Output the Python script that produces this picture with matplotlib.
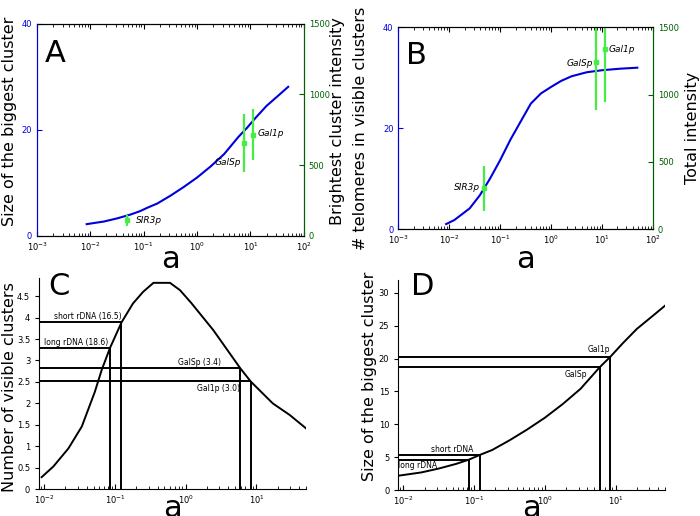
import numpy as np
import matplotlib.pyplot as plt
from matplotlib.ticker import FormatStrFormatter

# size of the biggest cluster vs a (panels A and D)
a_size = [0.0085, 0.018, 0.032, 0.056, 0.085, 0.12, 0.18, 0.32, 0.56, 1.0,
          1.8, 3.2, 6.0, 8.5, 12.6, 20, 32, 51]
size_biggest = [2.2, 2.7, 3.3, 4.0, 4.65, 5.35, 6.1, 7.6, 9.2, 11.0,
                13.1, 15.4, 18.7, 20.3, 22.3, 24.5, 26.3, 28.1]

# telomeres in visible clusters (panel B)
a_telo = [0.0087, 0.0126, 0.0251, 0.0398, 0.063, 0.1, 0.158, 0.251, 0.40,
          0.63, 1.0, 1.58, 2.51, 5.0, 10, 22.4, 49]
telomeres = [1.0, 1.8, 4.1, 6.7, 10.0, 13.7, 17.7, 21.3, 24.9,
             26.9, 28.2, 29.4, 30.3, 31.1, 31.5, 31.8, 32.0]

# number of visible clusters (panel C)
a_clusters = [0.0092, 0.0135, 0.022, 0.034, 0.052, 0.065, 0.085, 0.124, 0.18,
              0.25, 0.35, 0.60, 0.83, 1.2, 2.45, 5.9, 8.3, 17, 29.5, 50]
n_clusters = [0.28, 0.53, 0.95, 1.46, 2.27, 2.78, 3.29, 3.89, 4.33,
              4.6, 4.81, 4.81, 4.64, 4.34, 3.71, 2.82, 2.51, 2.0, 1.73, 1.42]

# measured proteins (A, B)
proteins = ['SIR3p', 'GalSp', 'Gal1p']
protein_a = [0.049, 7.5, 11.3]
brightest = [111, 655, 714]
brightest_err = [39, 205, 180]
total = [302, 1245, 1336]
total_err = [164, 360, 390]

# reference points (C, D)
ref_names_c = ['short rDNA (16.5)', 'long rDNA (18.6)', 'GalSp (3.4)', 'Gal1p (3.0)']
ref_names_d = ['short rDNA', 'long rDNA', 'GalSp', 'Gal1p']
ref_a = [0.123, 0.085, 5.95, 8.4]
ref_clusters = [3.89, 3.29, 2.82, 2.52]
ref_size = [5.36, 4.65, 18.7, 20.3]

blue = '#0000dd'
dgreen = '#006000'
lgreen = '#44ee44'
tick_fs = 6
label_fs = 11.5

fig = plt.figure(figsize=(7, 5.16), dpi=100)
axA = fig.add_axes([0.053, 0.543, 0.381, 0.411])
axB = fig.add_axes([0.569, 0.556, 0.364, 0.391])
axC = fig.add_axes([0.056, 0.052, 0.381, 0.409])
axD = fig.add_axes([0.569, 0.050, 0.381, 0.407])


def top_panel(ax, x, y, ya, yerr, left_label, right_label, offsets, letter):
    ax.plot(x, y, color=blue, lw=1.5)
    ax.set_xscale('log')
    ax.set_xlim(1e-3, 1e2)
    ax.set_ylim(0, 40)
    ax.set_yticks([0, 20, 40])
    ax.tick_params(which='both', direction='in', top=True, labelsize=tick_fs)
    ax.tick_params(axis='y', colors=blue, right=True)
    ax.tick_params(axis='x', colors='black')
    ax.spines['left'].set_color(blue)
    ax.spines['right'].set_color(dgreen)
    ax.set_ylabel(left_label, fontsize=label_fs)
    ax.set_xlabel('a', fontsize=22)
    ax.text(0.03, 0.93, letter, transform=ax.transAxes, fontsize=22,
            va='top', ha='left')

    tw = ax.twinx()
    tw.errorbar(protein_a, ya, yerr=yerr, fmt='s', color=lgreen, ms=2.5,
                elinewidth=1.6, capsize=0)
    tw.set_ylim(0, 1500)
    tw.set_yticks([0, 500, 1000, 1500])
    tw.tick_params(direction='in', labelsize=tick_fs, colors=dgreen)
    tw.spines['left'].set_color(blue)
    tw.spines['right'].set_color(dgreen)
    tw.set_ylabel(right_label, fontsize=label_fs)
    for name, px, py, (dx, dy, ha) in zip(proteins, protein_a, ya, offsets):
        tw.annotate(name, (px, py), xytext=(dx, dy), textcoords='offset points',
                    ha=ha, va='center', fontsize=6.5, style='italic')
    return tw


twA = top_panel(axA, a_size, size_biggest, brightest, brightest_err,
                'Size of the biggest cluster', 'Brightest cluster intensity',
                [(6, 0, 'left'), (-2, -14, 'right'), (3, 1, 'left')], 'A')
twB = top_panel(axB, a_telo, telomeres, total, total_err,
                '# telomeres in visible clusters', 'Total intensity',
                [(-3, 1, 'right'), (-2, -1, 'right'), (3, 0, 'left')], 'B')

axA.xaxis.set_label_coords(0.5, -0.045)
axB.xaxis.set_label_coords(0.5, -0.08)
axA.yaxis.set_label_coords(-0.076, 0.54)
twA.yaxis.set_label_coords(1.097, 0.54)
axB.yaxis.set_label_coords(-0.12, 0.5)
twB.yaxis.set_label_coords(1.125, 0.5)


def bottom_panel(ax, x, y, ry, names, offsets, ylabel, ymax, letter):
    xmin, xmax = 0.0085, 50
    ax.plot(x, y, color='black', lw=1.4)
    for name, px, py, (dx, dy, ha, va) in zip(names, ref_a, ry, offsets):
        ax.hlines(py, xmin, px, color='black', lw=1.4)
        ax.vlines(px, 0, py, color='black', lw=1.4)
        ax.annotate(name, (px, py), xytext=(dx, dy), textcoords='offset points',
                    ha=ha, va=va, fontsize=5.5)
    ax.set_xscale('log')
    ax.set_xlim(xmin, xmax)
    ax.set_ylim(0, ymax)
    for s in ['top', 'right']:
        ax.spines[s].set_visible(False)
    ax.tick_params(which='both', direction='in', labelsize=tick_fs)
    ax.tick_params(axis='y', direction='out', length=3)
    ax.set_ylabel(ylabel, fontsize=label_fs)
    ax.set_xlabel('a', fontsize=22)
    ax.text(0.034, 1.03, letter, transform=ax.transAxes, fontsize=22,
            va='top', ha='left')


bottom_panel(axC, a_clusters, n_clusters, ref_clusters, ref_names_c,
             [(0, 1, 'right', 'bottom'), (-1, 1, 'right', 'bottom'),
              (-14, 1, 'right', 'bottom'), (-8, -2, 'right', 'top')],
             'Number of visible clusters', 4.92, 'C')
axC.set_yticks(np.arange(0, 4.6, 0.5))
axC.yaxis.set_major_formatter(FormatStrFormatter('%g'))
axC.xaxis.set_label_coords(0.5, -0.024)
axC.yaxis.set_label_coords(-0.083, 0.483)

bottom_panel(axD, a_size, size_biggest, ref_size, ref_names_d,
             [(-5, 1, 'right', 'bottom'), (-23, -1, 'right', 'top'),
              (-9, -2, 'right', 'top'), (0, 2, 'right', 'bottom')],
             'Size of the biggest cluster', 31.9, 'D')
axD.set_yticks(np.arange(0, 31, 5))
axD.xaxis.set_label_coords(0.5, -0.02)
axD.yaxis.set_label_coords(-0.079, 0.54)
axD.texts[-1].set_position((0.049, 1.04))

fig.savefig('out.png', dpi=100)
